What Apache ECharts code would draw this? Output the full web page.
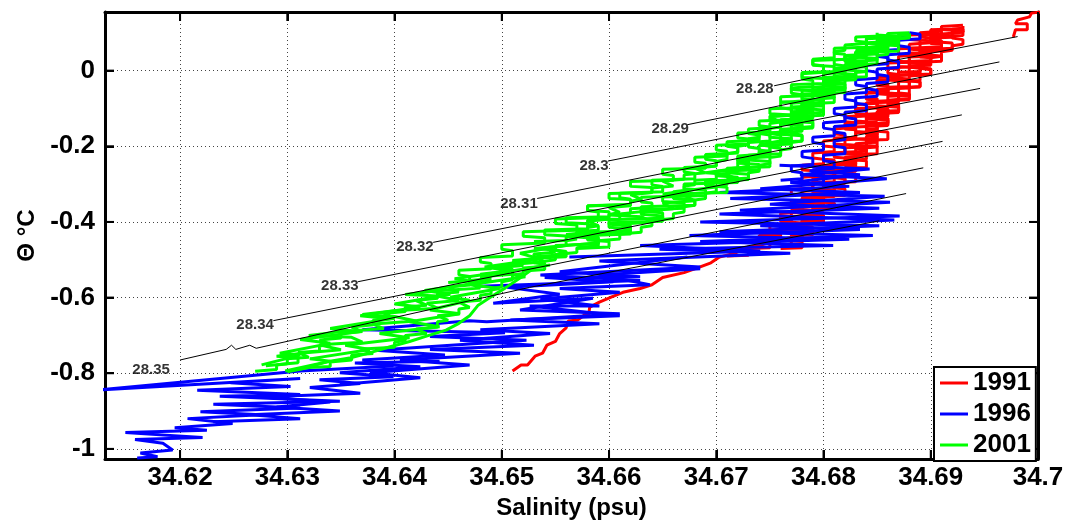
<!DOCTYPE html>
<html><head><meta charset="utf-8">
<script src="https://cdn.jsdelivr.net/npm/echarts@6/dist/echarts.min.js"></script>
<style>html,body{margin:0;padding:0;background:#fff}#c{width:1067px;height:525px}</style>
</head><body><div id="c"></div>
<script>
// ---------------- data ----------------
const years = ['1991', '1996', '2001'];
const xTitle = 'Salinity (psu)';
const yTitle = 'Θ °C';
const xTickValues = [34.62, 34.63, 34.64, 34.65, 34.66, 34.67, 34.68, 34.69, 34.70];
const yTickValues = [-1, -0.8, -0.6, -0.4, -0.2, 0];

// 1991 casts (salinity, potential temperature)
const red1991A = [[34.6510,-0.794],[34.6518,-0.778],[34.6524,-0.778],[34.6531,-0.755],[34.6538,-0.747],[34.6542,-0.726],[34.6550,-0.716],[34.6554,-0.695],[34.6560,-0.680],[34.6562,-0.662],[34.6571,-0.659],[34.6577,-0.646],[34.6581,-0.646],[34.6582,-0.625],[34.6591,-0.612],[34.6602,-0.599],[34.6613,-0.586],[34.6629,-0.576],[34.6640,-0.566],[34.6650,-0.547],[34.6670,-0.534],[34.6685,-0.519],[34.6695,-0.508],[34.6703,-0.493],[34.6717,-0.483],[34.6729,-0.467],[34.6741,-0.462],[34.6752,-0.452],[34.6769,-0.441],[34.6778,-0.431],
 [34.677,-0.430],[34.677,-0.410],[34.678,-0.408],[34.678,-0.392],[34.677,-0.390],[34.677,-0.374],[34.679,-0.372],[34.679,-0.352],[34.678,-0.350],[34.678,-0.336],[34.680,-0.334],[34.680,-0.314],[34.679,-0.312],[34.679,-0.296],[34.681,-0.294],[34.681,-0.272],[34.680,-0.270],[34.680,-0.254],[34.681,-0.252],[34.681,-0.236],[34.680,-0.234],[34.680,-0.220],[34.682,-0.218],[34.682,-0.196],[34.681,-0.194],[34.681,-0.178],[34.683,-0.176],[34.683,-0.156],[34.682,-0.154],[34.682,-0.140],[34.684,-0.138],[34.684,-0.116],[34.683,-0.114],[34.683,-0.100],[34.685,-0.098],[34.685,-0.078],[34.684,-0.076],[34.684,-0.060],[34.686,-0.058],[34.686,-0.036],[34.685,-0.034],[34.685,-0.018],[34.687,-0.016],[34.687,0.004],[34.686,0.006],[34.686,0.020],[34.688,0.022],[34.688,0.042],[34.687,0.044],[34.687,0.058],[34.689,0.060],[34.689,0.080],[34.688,0.082],[34.688,0.094],[34.690,0.096],[34.690,0.108],[34.692,0.110],[34.693,0.112]];
const red1991B = [[34.676,-0.470],[34.678,-0.468],[34.678,-0.452],[34.677,-0.450],[34.677,-0.436],[34.679,-0.434],[34.679,-0.418],[34.678,-0.416],[34.678,-0.402],[34.680,-0.400],[34.680,-0.384],[34.679,-0.382],[34.679,-0.368],[34.681,-0.366],[34.681,-0.350],[34.680,-0.348],[34.680,-0.332],[34.682,-0.330],[34.682,-0.312],[34.681,-0.310],[34.681,-0.296],[34.683,-0.294],[34.683,-0.276],[34.682,-0.274],[34.682,-0.258],[34.684,-0.256],[34.684,-0.238],[34.683,-0.236],[34.683,-0.222],[34.685,-0.220],[34.685,-0.200],[34.684,-0.198],[34.684,-0.184],[34.686,-0.182],[34.686,-0.162],[34.685,-0.160],[34.685,-0.144],[34.686,-0.142],[34.686,-0.126],[34.685,-0.124],[34.685,-0.108],[34.687,-0.106],[34.687,-0.086],[34.686,-0.084],[34.686,-0.068],[34.688,-0.066],[34.688,-0.046],[34.687,-0.044],[34.687,-0.028],[34.689,-0.026],[34.689,-0.006],[34.688,-0.004],[34.688,0.012],[34.690,0.014],[34.690,0.034],[34.689,0.036],[34.689,0.050],[34.691,0.052],[34.691,0.070],[34.690,0.072],[34.690,0.086],[34.692,0.088],[34.692,0.100],[34.693,0.102],[34.693,0.110]];
const red1991C = [[34.671,-0.490],[34.673,-0.488],[34.673,-0.470],[34.675,-0.468],[34.675,-0.452],[34.674,-0.450],[34.674,-0.436],[34.676,-0.434],[34.676,-0.420],[34.678,-0.418],[34.678,-0.400],[34.679,-0.398],[34.679,-0.380],[34.678,-0.378],[34.678,-0.360],[34.680,-0.358],[34.680,-0.340],[34.679,-0.338],[34.679,-0.322],[34.681,-0.320],[34.681,-0.302],[34.680,-0.300],[34.680,-0.284],[34.682,-0.282],[34.682,-0.262],[34.681,-0.260],[34.681,-0.244],[34.683,-0.242],[34.683,-0.222],[34.682,-0.220],[34.682,-0.204],[34.684,-0.202],[34.684,-0.182],[34.683,-0.180],[34.683,-0.164],[34.685,-0.162],[34.685,-0.142],[34.684,-0.140],[34.684,-0.124],[34.686,-0.122],[34.686,-0.102],[34.685,-0.100],[34.685,-0.084],[34.687,-0.082],[34.687,-0.062],[34.686,-0.060],[34.686,-0.044],[34.688,-0.042],[34.688,-0.022],[34.687,-0.020],[34.687,-0.004],[34.689,-0.002],[34.689,0.018],[34.688,0.020],[34.688,0.036],[34.690,0.038],[34.690,0.058],[34.691,0.060],[34.691,0.078],[34.689,0.080],[34.689,0.094],[34.691,0.096],[34.691,0.104]];
const red1991D = [[34.6977,0.089],[34.6979,0.108],[34.6990,0.108],[34.6990,0.124],[34.6979,0.124],[34.6981,0.134],[34.6992,0.142],[34.6994,0.152],[34.7006,0.157]];
const red1991E = [[34.674,-0.455],[34.676,-0.451],[34.676,-0.437],[34.675,-0.433],[34.675,-0.421],[34.678,-0.417],[34.678,-0.403],[34.676,-0.399],[34.676,-0.387],[34.679,-0.383],[34.679,-0.369],[34.677,-0.365],[34.677,-0.353],[34.680,-0.349],[34.680,-0.335],[34.678,-0.331],[34.678,-0.319],[34.681,-0.315],[34.681,-0.301],[34.679,-0.297],[34.679,-0.285],[34.682,-0.281],[34.682,-0.267],[34.680,-0.263],[34.680,-0.251],[34.683,-0.247],[34.683,-0.233],[34.681,-0.229],[34.681,-0.217],[34.684,-0.213],[34.684,-0.199],[34.682,-0.195],[34.682,-0.183],[34.685,-0.179],[34.685,-0.165],[34.683,-0.161],[34.683,-0.149],[34.686,-0.145],[34.686,-0.131],[34.684,-0.127],[34.684,-0.115],[34.687,-0.111],[34.687,-0.097],[34.685,-0.093],[34.685,-0.081],[34.688,-0.077],[34.688,-0.063],[34.686,-0.059],[34.686,-0.047],[34.689,-0.043],[34.689,-0.029],[34.687,-0.025],[34.687,-0.013],[34.690,-0.009],[34.690,0.005],[34.688,0.009],[34.688,0.021],[34.691,0.025],[34.691,0.039],[34.689,0.043],[34.689,0.055],[34.692,0.059],[34.692,0.073],[34.690,0.077],[34.690,0.089],[34.693,0.093],[34.693,0.105],[34.691,0.109],[34.691,0.117],[34.693,0.120]];
const red1991F = [[34.677,-0.445],[34.678,-0.441],[34.678,-0.425],[34.677,-0.421],[34.677,-0.409],[34.679,-0.405],[34.679,-0.389],[34.678,-0.385],[34.678,-0.373],[34.680,-0.369],[34.680,-0.353],[34.679,-0.349],[34.679,-0.337],[34.681,-0.333],[34.681,-0.317],[34.680,-0.313],[34.680,-0.301],[34.682,-0.297],[34.682,-0.281],[34.681,-0.277],[34.681,-0.265],[34.683,-0.261],[34.683,-0.245],[34.682,-0.241],[34.682,-0.229],[34.684,-0.225],[34.684,-0.209],[34.683,-0.205],[34.683,-0.193],[34.685,-0.189],[34.685,-0.173],[34.684,-0.169],[34.684,-0.157],[34.685,-0.153],[34.685,-0.137],[34.683,-0.133],[34.683,-0.121],[34.686,-0.117],[34.686,-0.101],[34.684,-0.097],[34.684,-0.085],[34.687,-0.081],[34.687,-0.065],[34.685,-0.061],[34.685,-0.049],[34.688,-0.045],[34.688,-0.029],[34.686,-0.025],[34.686,-0.013],[34.689,-0.009],[34.689,0.007],[34.687,0.011],[34.687,0.023],[34.690,0.027],[34.690,0.043],[34.688,0.047],[34.688,0.059],[34.691,0.063],[34.691,0.079],[34.690,0.083],[34.690,0.095],[34.692,0.099],[34.692,0.113]];
const red1991G = [[34.674,-0.442],[34.676,-0.438],[34.676,-0.426],[34.675,-0.423],[34.675,-0.410],[34.677,-0.406],[34.677,-0.394],[34.676,-0.391],[34.676,-0.378],[34.678,-0.374],[34.678,-0.362],[34.677,-0.359],[34.677,-0.346],[34.679,-0.342],[34.679,-0.330],[34.677,-0.327],[34.677,-0.314],[34.679,-0.310],[34.679,-0.298],[34.678,-0.295],[34.678,-0.282],[34.680,-0.278],[34.680,-0.266],[34.678,-0.263],[34.678,-0.250],[34.680,-0.246],[34.680,-0.234],[34.679,-0.231],[34.679,-0.218],[34.681,-0.214],[34.681,-0.202],[34.680,-0.199],[34.680,-0.186],[34.682,-0.182],[34.682,-0.170],[34.681,-0.167],[34.681,-0.154],[34.683,-0.150],[34.683,-0.138],[34.682,-0.135],[34.682,-0.122],[34.684,-0.118],[34.684,-0.106],[34.683,-0.103],[34.683,-0.090],[34.685,-0.086],[34.685,-0.074],[34.684,-0.071],[34.684,-0.058],[34.686,-0.054],[34.686,-0.042],[34.685,-0.039],[34.685,-0.026],[34.687,-0.022],[34.687,-0.010],[34.686,-0.007],[34.686,0.006],[34.688,0.010],[34.688,0.022],[34.687,0.025],[34.687,0.038],[34.689,0.042],[34.689,0.054],[34.688,0.057],[34.688,0.070],[34.690,0.074],[34.690,0.086],[34.689,0.089],[34.689,0.100],[34.691,0.104],[34.691,0.114]];
const red1991H = [[34.676,-0.462],[34.677,-0.458],[34.677,-0.446],[34.678,-0.443],[34.678,-0.430],[34.679,-0.426],[34.679,-0.414],[34.678,-0.411],[34.678,-0.398],[34.680,-0.394],[34.680,-0.382],[34.679,-0.379],[34.679,-0.366],[34.681,-0.362],[34.681,-0.350],[34.680,-0.347],[34.680,-0.334],[34.681,-0.330],[34.681,-0.318],[34.680,-0.315],[34.680,-0.302],[34.682,-0.298],[34.682,-0.286],[34.681,-0.283],[34.681,-0.270],[34.683,-0.266],[34.683,-0.254],[34.682,-0.251],[34.682,-0.238],[34.684,-0.234],[34.684,-0.222],[34.683,-0.219],[34.683,-0.206],[34.685,-0.202],[34.685,-0.190],[34.684,-0.187],[34.684,-0.174],[34.685,-0.170],[34.685,-0.158],[34.684,-0.155],[34.684,-0.142],[34.686,-0.138],[34.686,-0.126],[34.685,-0.123],[34.685,-0.110],[34.687,-0.106],[34.687,-0.094],[34.686,-0.091],[34.686,-0.078],[34.688,-0.074],[34.688,-0.062],[34.687,-0.059],[34.687,-0.046],[34.689,-0.042],[34.689,-0.030],[34.688,-0.027],[34.688,-0.014],[34.690,-0.010],[34.690,0.002],[34.689,0.006],[34.689,0.018],[34.690,0.021],[34.690,0.034],[34.691,0.038],[34.691,0.050],[34.692,0.054],[34.692,0.066],[34.693,0.070],[34.693,0.082],[34.692,0.086],[34.692,0.098],[34.693,0.102],[34.693,0.118]];

// 1996 casts
const blue1996A = [[34.678,-0.300],[34.680,-0.296],[34.680,-0.280],[34.679,-0.276],[34.679,-0.262],[34.681,-0.258],[34.681,-0.242],[34.680,-0.238],[34.680,-0.224],[34.682,-0.220],[34.682,-0.204],[34.681,-0.200],[34.681,-0.186],[34.682,-0.182],[34.682,-0.166],[34.681,-0.162],[34.681,-0.148],[34.683,-0.144],[34.683,-0.128],[34.682,-0.124],[34.682,-0.110],[34.684,-0.106],[34.684,-0.090],[34.683,-0.086],[34.683,-0.072],[34.685,-0.068],[34.685,-0.052],[34.684,-0.048],[34.684,-0.034],[34.686,-0.030],[34.686,-0.014],[34.685,-0.010],[34.685,0.004],[34.687,0.008],[34.687,0.024],[34.686,0.028],[34.686,0.042],[34.688,0.046],[34.688,0.062],[34.687,0.066],[34.687,0.080],[34.689,0.084],[34.689,0.096],[34.688,0.100]];
const blue1996B = [[34.676,-0.290],[34.678,-0.286],[34.678,-0.270],[34.677,-0.266],[34.677,-0.252],[34.679,-0.248],[34.679,-0.232],[34.678,-0.228],[34.678,-0.214],[34.680,-0.210],[34.680,-0.194],[34.679,-0.190],[34.679,-0.176],[34.681,-0.172],[34.681,-0.156],[34.680,-0.152],[34.680,-0.138],[34.682,-0.134],[34.682,-0.118],[34.681,-0.114],[34.681,-0.100],[34.683,-0.096],[34.683,-0.080],[34.682,-0.076],[34.682,-0.062],[34.684,-0.058],[34.684,-0.042],[34.683,-0.038],[34.683,-0.024],[34.685,-0.020],[34.685,-0.004],[34.684,0.000],[34.684,0.014],[34.686,0.018],[34.686,0.034],[34.685,0.038],[34.685,0.052],[34.687,0.056],[34.687,0.072],[34.686,0.076],[34.686,0.088],[34.688,0.092],[34.688,0.100]];
const blue1996C = [[34.6480,-0.570],[34.6629,-0.555],[34.6536,-0.540],[34.6685,-0.519],[34.6591,-0.503],[34.6769,-0.483],[34.6647,-0.472],[34.6809,-0.462],[34.6685,-0.452],[34.6846,-0.436],[34.6703,-0.426],[34.6852,-0.410],[34.6685,-0.400],[34.6871,-0.384],[34.6722,-0.369],[34.6862,-0.348],[34.6713,-0.338],[34.6834,-0.322],[34.6741,-0.312],[34.6859,-0.286],[34.6778,-0.275],[34.6843,-0.260],[34.6759,-0.250]];
const blue1996D = [[34.6563,-0.493],[34.6741,-0.477],[34.6629,-0.462],[34.6824,-0.446],[34.6675,-0.436],[34.6834,-0.420],[34.6741,-0.410],[34.6866,-0.395],[34.6703,-0.379],[34.6852,-0.364],[34.6750,-0.353],[34.6857,-0.332],[34.6703,-0.322],[34.6824,-0.306],[34.6769,-0.296],[34.6834,-0.275],[34.6787,-0.265]];
const blue1996E = [[34.6160,-1.024],[34.6179,-1.021],[34.6163,-1.011],[34.6193,-1.003],[34.6184,-0.985],[34.6158,-0.975],[34.6221,-0.970],[34.6149,-0.957],[34.6225,-0.951],[34.6195,-0.944],[34.6249,-0.933],[34.6207,-0.920],[34.6275,-0.910],[34.6219,-0.902],[34.6312,-0.892],[34.6231,-0.882],[34.6349,-0.874],[34.6237,-0.861],[34.6312,-0.856],[34.6216,-0.845],[34.6303,-0.835],[34.6247,-0.825],[34.6312,-0.814],[34.6121,-0.845],[34.6312,-0.794],
 [34.6399,-0.781],[34.6370,-0.765],[34.6447,-0.752],[34.6382,-0.739],[34.6523,-0.713],[34.6433,-0.703],[34.6503,-0.693],[34.6370,-0.685],[34.6470,-0.661],[34.6486,-0.664],[34.6610,-0.643],[34.6517,-0.633],[34.6585,-0.602],[34.6492,-0.615],[34.6554,-0.591],[34.6505,-0.573],[34.6604,-0.558],[34.6540,-0.547],[34.6629,-0.545],[34.6554,-0.532],[34.6673,-0.493]];
const blue1996F = [[34.6231,-0.928],[34.6312,-0.920],[34.6265,-0.910],[34.6349,-0.900],[34.6290,-0.889],[34.6340,-0.876],[34.6276,-0.863],[34.6368,-0.853],[34.6321,-0.838],[34.6368,-0.827],[34.6330,-0.817],[34.6399,-0.809],[34.6349,-0.799],[34.6424,-0.783],[34.6363,-0.773],[34.6442,-0.768]];
const blue1996G = [[34.6349,-0.830],[34.6424,-0.812],[34.6377,-0.799],[34.6470,-0.778],[34.6405,-0.765],[34.6517,-0.747],[34.6433,-0.737],[34.6530,-0.726],[34.6461,-0.713],[34.6545,-0.695],[34.6480,-0.685],[34.6591,-0.669],[34.6508,-0.659],[34.6610,-0.648],[34.6526,-0.622],[34.6591,-0.622],[34.6536,-0.604],[34.6610,-0.586],[34.6554,-0.576],[34.6638,-0.566],[34.6591,-0.540],[34.6685,-0.524]];

// 2001 casts
const green2001A = [[34.627,-0.795],[34.629,-0.790],[34.629,-0.778],[34.630,-0.775],[34.630,-0.762],[34.632,-0.758],[34.631,-0.745],[34.633,-0.741],[34.633,-0.728],[34.634,-0.724],[34.633,-0.712],[34.635,-0.707],[34.635,-0.695],[34.637,-0.690],[34.636,-0.678],[34.638,-0.672],[34.638,-0.660],[34.640,-0.655],[34.639,-0.642],[34.641,-0.637],[34.641,-0.625],[34.643,-0.620],[34.642,-0.608],[34.644,-0.602],[34.644,-0.590],[34.646,-0.585],[34.645,-0.572],[34.647,-0.567],[34.647,-0.555],[34.649,-0.550],[34.648,-0.538],[34.650,-0.532],[34.650,-0.520],[34.652,-0.515],[34.651,-0.502],[34.653,-0.497],[34.653,-0.485],[34.655,-0.480],[34.654,-0.468],[34.656,-0.462],[34.656,-0.450],[34.657,-0.445],[34.656,-0.433],[34.658,-0.428],[34.658,-0.415],[34.659,-0.410],[34.658,-0.398],[34.660,-0.392],[34.660,-0.380],[34.661,-0.375],[34.660,-0.362],[34.662,-0.357],[34.662,-0.345],[34.663,-0.340],[34.662,-0.328],[34.664,-0.322],[34.664,-0.310],[34.666,-0.305],[34.665,-0.292],[34.667,-0.287],[34.667,-0.275],[34.669,-0.270],[34.668,-0.258],[34.670,-0.252],[34.670,-0.240],[34.671,-0.235],[34.671,-0.220],[34.672,-0.215],[34.672,-0.200],[34.673,-0.196],[34.673,-0.180],[34.674,-0.176],[34.674,-0.160],[34.675,-0.156],[34.675,-0.140],[34.676,-0.136],[34.675,-0.122],[34.677,-0.118],[34.677,-0.102],[34.676,-0.098],[34.676,-0.084],[34.678,-0.080],[34.678,-0.064],[34.677,-0.060],[34.677,-0.046],[34.679,-0.042],[34.679,-0.026],[34.678,-0.022],[34.678,-0.008],[34.680,-0.004],[34.680,0.012],[34.679,0.016],[34.679,0.030],[34.681,0.034],[34.681,0.050],[34.682,0.054],[34.682,0.068],[34.684,0.072],[34.684,0.086],[34.686,0.090],[34.686,0.098],[34.688,0.100]];
const green2001B = [[34.630,-0.796],[34.632,-0.785],[34.634,-0.782],[34.634,-0.770],[34.636,-0.765],[34.636,-0.752],[34.638,-0.748],[34.637,-0.736],[34.640,-0.731],[34.640,-0.718],[34.641,-0.713],[34.641,-0.700],[34.643,-0.695],[34.642,-0.683],[34.644,-0.678],[34.644,-0.664],[34.645,-0.660],[34.644,-0.648],[34.646,-0.643],[34.646,-0.630],[34.647,-0.626],[34.646,-0.612],[34.648,-0.607],[34.648,-0.594],[34.649,-0.590],[34.649,-0.576],[34.650,-0.572],[34.650,-0.558],[34.651,-0.553],[34.651,-0.540],[34.652,-0.536],[34.652,-0.522],[34.654,-0.517],[34.654,-0.504],[34.655,-0.500],[34.655,-0.486],[34.657,-0.481],[34.657,-0.468],[34.659,-0.463],[34.659,-0.450],[34.661,-0.445],[34.661,-0.432],[34.663,-0.427],[34.663,-0.414],[34.664,-0.410],[34.664,-0.396],[34.666,-0.391],[34.666,-0.378],[34.667,-0.374],[34.667,-0.360],[34.668,-0.356],[34.668,-0.342],[34.669,-0.338],[34.669,-0.324],[34.670,-0.320],[34.670,-0.306],[34.671,-0.302],[34.671,-0.288],[34.673,-0.284],[34.673,-0.270],[34.674,-0.266],[34.674,-0.250],[34.675,-0.246],[34.675,-0.230],[34.676,-0.226],[34.676,-0.210],[34.677,-0.206],[34.677,-0.190],[34.678,-0.186],[34.678,-0.170],[34.677,-0.166],[34.677,-0.152],[34.679,-0.148],[34.679,-0.132],[34.678,-0.128],[34.678,-0.114],[34.680,-0.110],[34.680,-0.094],[34.679,-0.090],[34.679,-0.076],[34.681,-0.072],[34.681,-0.056],[34.680,-0.052],[34.680,-0.038],[34.682,-0.034],[34.682,-0.018],[34.681,-0.014],[34.681,0.000],[34.683,0.004],[34.683,0.020],[34.682,0.024],[34.682,0.038],[34.684,0.042],[34.684,0.058],[34.686,0.062],[34.686,0.076],[34.687,0.080],[34.687,0.092],[34.688,0.096]];
const green2001C = [[34.628,-0.780],[34.631,-0.772],[34.631,-0.760],[34.629,-0.755],[34.632,-0.745],[34.635,-0.738],[34.633,-0.725],[34.637,-0.718],[34.636,-0.705],[34.632,-0.700],[34.635,-0.690],[34.639,-0.682],[34.638,-0.670],[34.642,-0.662],[34.640,-0.650],[34.637,-0.645],[34.640,-0.635],[34.644,-0.628],[34.643,-0.615],[34.646,-0.608],[34.644,-0.596],[34.641,-0.592],[34.644,-0.582],[34.648,-0.575],[34.647,-0.562],[34.649,-0.556],[34.648,-0.545],[34.651,-0.538],[34.651,-0.525],[34.649,-0.520],[34.652,-0.510],[34.654,-0.505],[34.653,-0.492],[34.656,-0.486],[34.655,-0.474],[34.653,-0.470],[34.657,-0.460],[34.659,-0.455],[34.659,-0.440],[34.657,-0.436],[34.661,-0.426],[34.662,-0.420],[34.661,-0.406],[34.664,-0.400],[34.663,-0.386],[34.660,-0.382],[34.664,-0.370],[34.666,-0.365],[34.665,-0.350],[34.668,-0.344],[34.667,-0.330],[34.665,-0.326],[34.668,-0.314],[34.670,-0.308],[34.669,-0.294],[34.672,-0.288],[34.671,-0.274],[34.669,-0.270],[34.672,-0.258],[34.673,-0.252],[34.673,-0.236],[34.672,-0.232],[34.674,-0.222],[34.675,-0.216],[34.675,-0.200],[34.674,-0.196],[34.676,-0.186],[34.676,-0.170],[34.675,-0.166],[34.677,-0.158],[34.677,-0.142],[34.676,-0.138],[34.678,-0.130],[34.678,-0.114],[34.677,-0.110],[34.679,-0.102],[34.679,-0.086],[34.678,-0.082],[34.680,-0.074],[34.680,-0.058],[34.679,-0.054],[34.681,-0.046],[34.681,-0.030],[34.680,-0.026],[34.682,-0.018],[34.682,-0.002],[34.681,0.002],[34.683,0.010],[34.683,0.026],[34.682,0.030],[34.684,0.038],[34.684,0.052],[34.683,0.056],[34.685,0.064],[34.685,0.078],[34.686,0.082],[34.686,0.090]];
const green2001D = [[34.6312,-0.789],[34.6340,-0.768],[34.6358,-0.760],[34.6378,-0.745],[34.6396,-0.730],[34.6414,-0.716],[34.6432,-0.700],[34.6448,-0.686],[34.6460,-0.668],[34.6470,-0.648],[34.6478,-0.620],[34.6489,-0.600],[34.6503,-0.575],[34.6517,-0.548],[34.6531,-0.520]];
const green2001E = [[34.671,-0.262],[34.673,-0.258],[34.673,-0.242],[34.672,-0.238],[34.672,-0.226],[34.674,-0.222],[34.674,-0.206],[34.673,-0.202],[34.673,-0.190],[34.675,-0.186],[34.675,-0.170],[34.674,-0.166],[34.674,-0.154],[34.676,-0.150],[34.676,-0.134],[34.677,-0.130],[34.677,-0.116],[34.679,-0.112],[34.679,-0.096],[34.678,-0.092],[34.678,-0.080],[34.680,-0.076],[34.680,-0.060],[34.679,-0.056],[34.679,-0.044],[34.681,-0.040],[34.681,-0.024],[34.680,-0.020],[34.680,-0.008],[34.682,-0.004],[34.682,0.012],[34.681,0.016],[34.681,0.028],[34.683,0.032],[34.683,0.048],[34.685,0.052],[34.685,0.066],[34.687,0.070],[34.687,0.084],[34.688,0.088],[34.688,0.098]];
const green2001F = [[34.652,-0.530],[34.654,-0.526],[34.654,-0.512],[34.653,-0.508],[34.653,-0.496],[34.656,-0.492],[34.656,-0.478],[34.655,-0.474],[34.655,-0.462],[34.659,-0.458],[34.659,-0.444],[34.657,-0.440],[34.657,-0.428],[34.662,-0.424],[34.662,-0.410],[34.660,-0.406],[34.660,-0.394],[34.665,-0.390],[34.665,-0.376],[34.663,-0.372],[34.663,-0.360],[34.668,-0.356],[34.668,-0.342],[34.666,-0.338],[34.666,-0.326],[34.671,-0.322],[34.671,-0.308],[34.669,-0.304],[34.669,-0.292],[34.673,-0.288],[34.673,-0.274],[34.671,-0.270],[34.671,-0.258],[34.675,-0.254],[34.675,-0.240],[34.673,-0.236],[34.673,-0.224],[34.676,-0.220],[34.676,-0.206],[34.675,-0.202],[34.675,-0.190],[34.678,-0.186],[34.678,-0.172],[34.676,-0.168],[34.676,-0.156],[34.679,-0.152],[34.679,-0.138],[34.677,-0.134],[34.677,-0.122],[34.680,-0.118],[34.680,-0.104],[34.678,-0.100],[34.678,-0.088],[34.681,-0.084],[34.681,-0.070],[34.679,-0.066],[34.679,-0.054],[34.682,-0.050],[34.682,-0.036],[34.680,-0.032],[34.680,-0.020],[34.684,-0.016],[34.684,-0.002],[34.682,0.002],[34.682,0.014],[34.685,0.018],[34.685,0.032],[34.683,0.036],[34.683,0.048],[34.687,0.052],[34.687,0.066],[34.685,0.070],[34.685,0.082],[34.688,0.086],[34.688,0.096]];
const green2001G = [[34.645,-0.560],[34.647,-0.556],[34.647,-0.544],[34.646,-0.540],[34.646,-0.528],[34.649,-0.524],[34.649,-0.510],[34.648,-0.506],[34.648,-0.494],[34.651,-0.490],[34.651,-0.476],[34.650,-0.472],[34.650,-0.460],[34.654,-0.456],[34.654,-0.442],[34.652,-0.438],[34.652,-0.426],[34.657,-0.422],[34.657,-0.408],[34.655,-0.404],[34.655,-0.392],[34.659,-0.388],[34.659,-0.374],[34.658,-0.370],[34.658,-0.358],[34.662,-0.354],[34.662,-0.340],[34.661,-0.336],[34.661,-0.324],[34.665,-0.320],[34.665,-0.306],[34.664,-0.302],[34.664,-0.290],[34.668,-0.286],[34.668,-0.272],[34.667,-0.268],[34.667,-0.256],[34.670,-0.252],[34.670,-0.238],[34.669,-0.234],[34.669,-0.222],[34.672,-0.218],[34.672,-0.204],[34.671,-0.200],[34.671,-0.188],[34.674,-0.184],[34.674,-0.170],[34.673,-0.166],[34.673,-0.154],[34.676,-0.150],[34.676,-0.136],[34.675,-0.132],[34.675,-0.120],[34.678,-0.116],[34.678,-0.102],[34.677,-0.098],[34.677,-0.086],[34.679,-0.082],[34.679,-0.068],[34.678,-0.064],[34.678,-0.052],[34.681,-0.048],[34.681,-0.034],[34.680,-0.030],[34.680,-0.018],[34.683,-0.014],[34.683,0.000],[34.682,0.004],[34.682,0.016],[34.684,0.020],[34.684,0.034],[34.683,0.038],[34.683,0.050],[34.686,0.054],[34.686,0.068],[34.684,0.072],[34.684,0.084],[34.687,0.088],[34.687,0.098]];
const green2001H = [[34.6276,-0.778],[34.6312,-0.752],[34.6293,-0.747],[34.6340,-0.721],[34.6312,-0.711],[34.6368,-0.690],[34.6340,-0.682],[34.6396,-0.656],[34.6368,-0.648],[34.6424,-0.625],[34.6400,-0.617],[34.6452,-0.591],[34.6428,-0.581],[34.6480,-0.560],[34.6456,-0.550],[34.6508,-0.529],[34.6484,-0.519],[34.6536,-0.498],[34.6517,-0.483],[34.6559,-0.462]];
const green2001I = [[34.6298,-0.794],[34.6340,-0.768],[34.6321,-0.762],[34.6377,-0.737],[34.6354,-0.726],[34.6414,-0.706],[34.6386,-0.695],[34.6442,-0.677],[34.6414,-0.664],[34.6461,-0.643],[34.6433,-0.633],[34.6470,-0.607],[34.6452,-0.599],[34.6498,-0.576],[34.6470,-0.566],[34.6522,-0.545],[34.6498,-0.534],[34.6545,-0.514]];
const green2001J = [[34.653,-0.452],[34.656,-0.449],[34.656,-0.437],[34.654,-0.434],[34.654,-0.421],[34.658,-0.418],[34.658,-0.405],[34.656,-0.402],[34.656,-0.389],[34.660,-0.386],[34.660,-0.373],[34.658,-0.370],[34.658,-0.357],[34.662,-0.354],[34.662,-0.341],[34.660,-0.338],[34.660,-0.325],[34.664,-0.322],[34.664,-0.309],[34.662,-0.306],[34.662,-0.293],[34.666,-0.290],[34.666,-0.277],[34.665,-0.274],[34.665,-0.261],[34.669,-0.258],[34.669,-0.245],[34.668,-0.242],[34.668,-0.229],[34.671,-0.226],[34.671,-0.213],[34.670,-0.210],[34.670,-0.197],[34.673,-0.194],[34.673,-0.181],[34.672,-0.178],[34.672,-0.165],[34.675,-0.162],[34.675,-0.149],[34.674,-0.146],[34.674,-0.133],[34.677,-0.130],[34.677,-0.117],[34.675,-0.114],[34.675,-0.101],[34.678,-0.098],[34.678,-0.085],[34.676,-0.082],[34.676,-0.069],[34.679,-0.066],[34.679,-0.053],[34.677,-0.050],[34.677,-0.037],[34.680,-0.034],[34.680,-0.021],[34.678,-0.018],[34.678,-0.005],[34.681,-0.002],[34.681,0.011],[34.679,0.014],[34.679,0.027],[34.682,0.030],[34.682,0.043],[34.681,0.046],[34.681,0.059],[34.684,0.062],[34.684,0.075],[34.683,0.078],[34.683,0.089],[34.686,0.092],[34.686,0.100]];
const green2001K = [[34.657,-0.470],[34.660,-0.466],[34.660,-0.452],[34.658,-0.448],[34.658,-0.436],[34.662,-0.432],[34.662,-0.418],[34.660,-0.414],[34.660,-0.402],[34.665,-0.398],[34.665,-0.384],[34.663,-0.380],[34.663,-0.368],[34.667,-0.364],[34.667,-0.350],[34.665,-0.346],[34.665,-0.334],[34.669,-0.330],[34.669,-0.316],[34.667,-0.312],[34.667,-0.300],[34.672,-0.296],[34.672,-0.282],[34.670,-0.278],[34.670,-0.266],[34.674,-0.262],[34.674,-0.248],[34.672,-0.244],[34.672,-0.232],[34.675,-0.228],[34.675,-0.214],[34.674,-0.210],[34.674,-0.198],[34.677,-0.194],[34.677,-0.180],[34.675,-0.176],[34.675,-0.164],[34.678,-0.160],[34.678,-0.146],[34.676,-0.142],[34.676,-0.130],[34.679,-0.126],[34.679,-0.112],[34.677,-0.108],[34.677,-0.096],[34.680,-0.092],[34.680,-0.078],[34.678,-0.074],[34.678,-0.062],[34.682,-0.058],[34.682,-0.044],[34.680,-0.040],[34.680,-0.028],[34.683,-0.024],[34.683,-0.010],[34.681,-0.006],[34.681,0.006],[34.684,0.010],[34.684,0.024],[34.682,0.028],[34.682,0.040],[34.685,0.044],[34.685,0.058],[34.684,0.062],[34.684,0.074],[34.687,0.078],[34.687,0.090],[34.685,0.094],[34.685,0.100]];
const green2001L = [[34.656,-0.440],[34.657,-0.437],[34.657,-0.425],[34.659,-0.422],[34.659,-0.410],[34.658,-0.407],[34.658,-0.395],[34.661,-0.392],[34.661,-0.380],[34.662,-0.377],[34.662,-0.365],[34.664,-0.362],[34.664,-0.350],[34.663,-0.347],[34.663,-0.335],[34.666,-0.332],[34.666,-0.320],[34.667,-0.317],[34.667,-0.305],[34.668,-0.302],[34.668,-0.290],[34.670,-0.287],[34.670,-0.275],[34.671,-0.272],[34.671,-0.260],[34.672,-0.257],[34.672,-0.245],[34.673,-0.242],[34.673,-0.230],[34.674,-0.227],[34.674,-0.215],[34.675,-0.212],[34.675,-0.200],[34.676,-0.197],[34.676,-0.185],[34.677,-0.182],[34.677,-0.170],[34.676,-0.167],[34.676,-0.155],[34.678,-0.152],[34.678,-0.140],[34.677,-0.137],[34.677,-0.125],[34.679,-0.122],[34.679,-0.110],[34.678,-0.107],[34.678,-0.095],[34.680,-0.092],[34.680,-0.080],[34.679,-0.077],[34.679,-0.065],[34.681,-0.062],[34.681,-0.050],[34.682,-0.047],[34.682,-0.035],[34.681,-0.032],[34.681,-0.020],[34.683,-0.017],[34.683,-0.005],[34.684,-0.002],[34.684,0.010],[34.683,0.013],[34.683,0.025],[34.685,0.028],[34.685,0.040],[34.686,0.043],[34.686,0.055],[34.685,0.058],[34.685,0.070],[34.687,0.073],[34.687,0.085],[34.688,0.088],[34.688,0.098]];

// isopycnal contours (sigma levels)
const contourLevels = ['28.28','28.29','28.3','28.31','28.32','28.33','28.34','28.35'];
const c2828 = [[34.6754,-0.040],[34.6871,0.030],[34.6981,0.090]];
const c2829 = [[34.6673,-0.143],[34.6824,-0.055],[34.6964,0.023]];
const c2830 = [[34.6599,-0.239],[34.6778,-0.138],[34.6946,-0.047]];
const c2831 = [[34.6533,-0.338],[34.6731,-0.226],[34.6929,-0.117]];
const c2832 = [[34.6436,-0.454],[34.6675,-0.319],[34.6911,-0.187]];
const c2833 = [[34.6366,-0.558],[34.6629,-0.408],[34.6893,-0.257]];
const c2834 = [[34.6287,-0.661],[34.6582,-0.493],[34.6877,-0.325]];
const c2835 = [[34.6200,-0.765],[34.6243,-0.737],[34.6248,-0.726],[34.6252,-0.737],[34.6265,-0.726],[34.6271,-0.734],[34.6526,-0.573],[34.6852,-0.397]];
const contourLabelS = [34.6736, 34.6657, 34.6586, 34.6516, 34.6419, 34.6349, 34.6270, 34.6173];
const contourLabelT = [-0.047, -0.154, -0.252, -0.351, -0.467, -0.568, -0.672, -0.791];

// ---------------- chart ----------------
const X_MIN = 34.613, X_MAX = 34.70, Y_MIN = -1.027, Y_MAX = 0.155;
const FONT = "'Liberation Sans', Arial, Helvetica, sans-serif";
const colors = {'1991': '#ff0000', '1996': '#0000ff', '2001': '#00ff00'};
const casts = [
  ['1991', red1991A], ['1991', red1991B], ['1991', red1991C], ['1991', red1991D], ['1991', red1991E], ['1991', red1991F], ['1991', red1991G], ['1991', red1991H],
  ['1996', blue1996C], ['1996', blue1996D], ['1996', blue1996A], ['1996', blue1996B], ['1996', blue1996E], ['1996', blue1996F], ['1996', blue1996G],
  ['2001', green2001D], ['2001', green2001H], ['2001', green2001I], ['2001', green2001A], ['2001', green2001B], ['2001', green2001C],
  ['2001', green2001E], ['2001', green2001F], ['2001', green2001G], ['2001', green2001J], ['2001', green2001K], ['2001', green2001L]
];
const contours = [c2828, c2829, c2830, c2831, c2832, c2833, c2834, c2835];

const series = [];
casts.forEach(([yr, d]) => series.push({
  type: 'line', name: yr, data: d, showSymbol: false, symbol: 'none',
  lineStyle: {color: colors[yr], width: 3}, itemStyle: {color: colors[yr]},
  clip: true, silent: true, z: 2
}));
contours.forEach(d => series.push({
  type: 'line', name: 'contour', data: d, showSymbol: false, symbol: 'none',
  lineStyle: {color: '#000', width: 1}, clip: true, silent: true, z: 3
}));
series.push({
  type: 'scatter', name: 'labels', symbolSize: 1, itemStyle: {color: 'rgba(0,0,0,0)'}, silent: true, z: 4,
  data: contourLabelS.map((s, i) => ({value: [s, contourLabelT[i]], label: {formatter: contourLevels[i]}})),
  label: {show: true, position: 'inside', color: '#000', fontFamily: FONT, fontWeight: 'bold', fontSize: 15}
});
// inward tick marks on all four sides (MATLAB box style), placed through the axes' scales
const TICK_LEN = 9;
const tickStyle = {stroke: '#000', lineWidth: 2};
series.push({
  type: 'custom', name: 'xticks', silent: true, z: 6, clip: false,
  data: xTickValues.map(v => [v, Y_MIN]),
  renderItem: function (params, api) {
    const v = api.value(0);
    const b = api.coord([v, Y_MIN]);
    const t = api.coord([v, Y_MAX]);
    return {type: 'group', children: [
      {type: 'line', shape: {x1: b[0], y1: b[1], x2: b[0], y2: b[1] - TICK_LEN}, style: tickStyle},
      {type: 'line', shape: {x1: t[0], y1: t[1], x2: t[0], y2: t[1] + TICK_LEN}, style: tickStyle}
    ]};
  }
});
series.push({
  type: 'custom', name: 'yticks', silent: true, z: 6, clip: false,
  data: yTickValues.map(v => [X_MIN, v]),
  renderItem: function (params, api) {
    const v = api.value(1);
    const l = api.coord([X_MIN, v]);
    const r = api.coord([X_MAX, v]);
    return {type: 'group', children: [
      {type: 'line', shape: {x1: l[0], y1: l[1], x2: l[0] + TICK_LEN, y2: l[1]}, style: tickStyle},
      {type: 'line', shape: {x1: r[0], y1: r[1], x2: r[0] - TICK_LEN, y2: r[1]}, style: tickStyle}
    ]};
  }
});

function tick() { return {show: true, inside: true, length: 9, lineStyle: {color: '#000', width: 2}}; }
function axLine() { return {show: true, onZero: false, lineStyle: {color: '#000', width: 3}}; }
function xBase() { return {type: 'value', min: X_MIN, max: X_MAX, splitNumber: 9, minInterval: 0.01, maxInterval: 0.01}; }
function yBase() { return {type: 'value', min: Y_MIN, max: Y_MAX, splitNumber: 6, minInterval: 0.2, maxInterval: 0.2}; }
const gridLine = {type: [1, 3], color: '#444', width: 1};

const option = {
  animation: false,
  backgroundColor: '#fff',
  grid: {left: 105, top: 12, right: 29, bottom: 57, show: false, containLabel: false},
  legend: {
    data: years, orient: 'vertical', left: 934, top: 367, icon: 'rect', itemWidth: 28, itemHeight: 3,
    itemGap: 5, padding: [3, 5, 3, 6], borderColor: '#000', borderWidth: 2, backgroundColor: '#fff',
    textStyle: {fontFamily: FONT, fontWeight: 'bold', fontSize: 26, color: '#000', lineHeight: 26},
    selectedMode: false, z: 10
  },
  xAxis: [
    Object.assign(xBase(), {
      position: 'bottom', name: xTitle, nameLocation: 'middle', nameGap: 29,
      nameTextStyle: {fontFamily: FONT, fontWeight: 'bold', fontSize: 24, color: '#000'},
      axisLine: axLine(), axisTick: tick(),
      axisLabel: {show: true, showMinLabel: false, margin: 6, fontFamily: FONT, fontWeight: 'bold', fontSize: 26, color: '#000'},
      splitLine: {show: true, lineStyle: gridLine}
    }),
    Object.assign(xBase(), {
      position: 'top', axisLine: axLine(), axisTick: tick(), axisLabel: {show: false}, splitLine: {show: false}
    })
  ],
  yAxis: [
    Object.assign(yBase(), {
      position: 'left', name: yTitle, nameLocation: 'middle', nameGap: 62, nameRotate: 90,
      nameTextStyle: {fontFamily: FONT, fontWeight: 'bold', fontSize: 24, color: '#000'},
      axisLine: axLine(), axisTick: tick(),
      axisLabel: {show: true, showMinLabel: false, showMaxLabel: false, margin: 10, fontFamily: FONT, fontWeight: 'bold', fontSize: 26, color: '#000'},
      splitLine: {show: true, lineStyle: gridLine}
    }),
    Object.assign(yBase(), {
      position: 'right', axisLine: axLine(), axisTick: tick(), axisLabel: {show: false}, splitLine: {show: false}
    })
  ],
  series: series
};

const chart = echarts.init(document.getElementById('c'), null, {renderer: 'canvas'});
chart.setOption(option);
</script>
</body></html>
